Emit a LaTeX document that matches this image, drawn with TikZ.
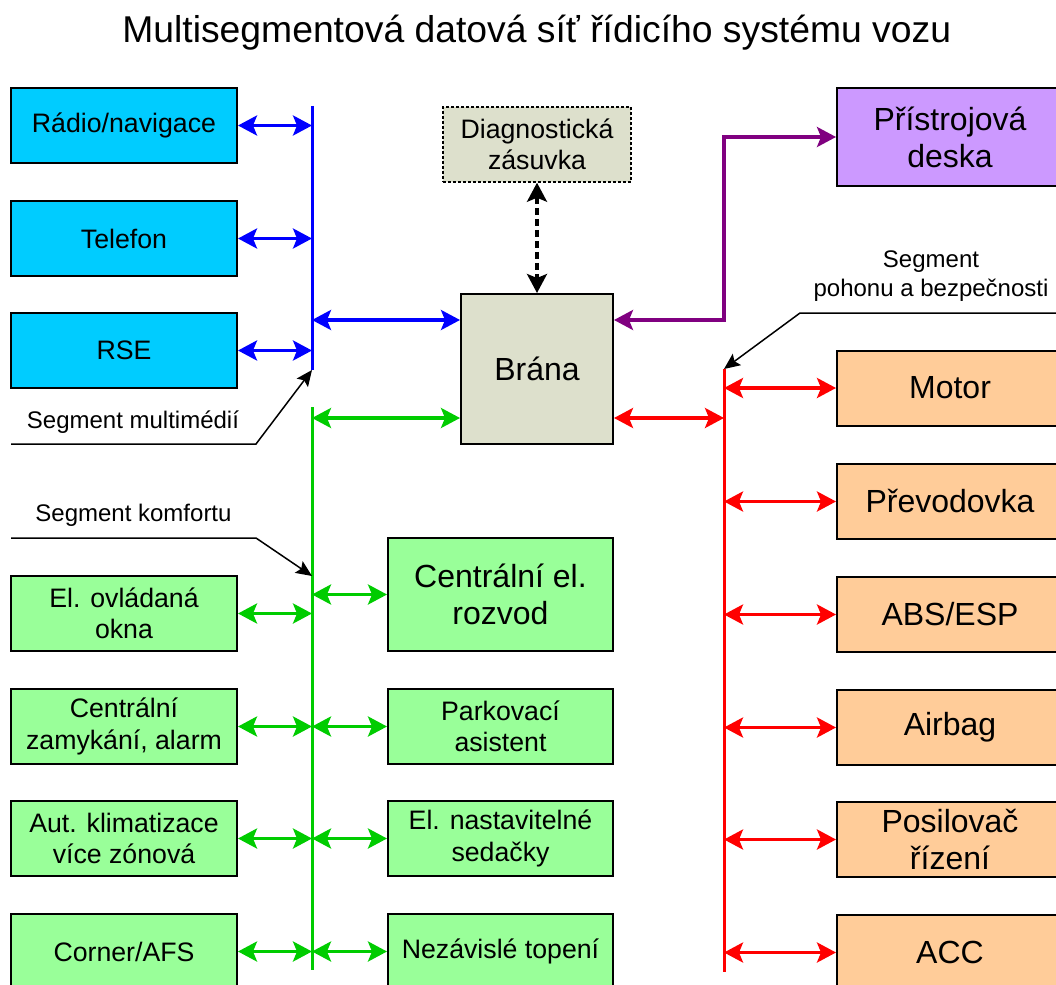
\documentclass[tikz,border=0pt]{standalone}
\usepackage{fontspec}
\setmainfont{Liberation Sans}
\usetikzlibrary{arrows.meta}
\definecolor{cyanbox}{RGB}{0,204,255}
\definecolor{greenbox}{RGB}{153,255,153}
\definecolor{orangebox}{RGB}{255,204,153}
\definecolor{lilacbox}{RGB}{204,153,255}
\definecolor{graybox}{RGB}{221,224,204}
\definecolor{busgreen}{RGB}{0,204,0}
\definecolor{busblue}{RGB}{0,0,255}
\definecolor{busred}{RGB}{255,0,0}
\definecolor{buspurple}{RGB}{128,0,128}
\tikzset{
  box/.style={draw=black, line width=2pt, inner sep=0pt, align=center,
    minimum width=226pt, minimum height=75pt, anchor=center},
  fmid/.style={font=\fontsize{26.7}{31.5}\selectfont},
  fbig/.style={font=\fontsize{32}{37}\selectfont},
  flab/.style={font=\fontsize{24}{29}\selectfont},
  link/.style={line width=3.2pt,
    {Stealth[length=19pt,width=20pt,inset=4pt]}-{Stealth[length=19pt,width=20pt,inset=4pt]}},
  busline/.style={line width=3pt},
  note/.style={line width=1.5pt, draw=black,
    -{Stealth[length=16pt,width=14pt,inset=3pt]}},
}
\begin{document}
\begin{tikzpicture}[x=1pt,y=-1pt]
\clip (0,0) rectangle (1056,984);
\fill[white] (0,0) rectangle (1056,984);

% title
\node[anchor=base, font=\fontsize{37.3}{44}\selectfont] (title) at (536.7,43)
  {Multisegmentová datová síť řídicího systému vozu};

% multimedia segment
\node[box, fill=cyanbox, fmid] (radio) at (124,125.5) {Rádio/navigace};
\node[box, fill=cyanbox, fmid] (tel) at (124,238.5) {Telefon};
\node[box, fill=cyanbox, fmid] (rse) at (124,350.5) {RSE};
\coordinate (mtop) at (312,106);
\coordinate (mbot) at (312,370);
\coordinate (mgw) at (312,320);
\draw[busline, busblue] (mtop) -- (mbot);
\draw[link, busblue] (radio.east) -- (radio.east -| mtop);
\draw[link, busblue] (tel.east) -- (tel.east -| mtop);
\draw[link, busblue] (rse.east) -- (rse.east -| mtop);

% gateway
\node[box, fill=graybox, fbig, minimum width=152pt, minimum height=150pt] (brana) at (537,369) {Brána};
\node[box, fill=graybox, fmid, minimum width=188pt, minimum height=75pt,
  line width=1.5pt, dash pattern=on 3pt off 2pt] (diag) at (537,144.5) {Diagnostická\\zásuvka};
\draw[link, black, dash pattern=on 7pt off 4pt] (diag.south) -- (brana.north);
\draw[link, busblue] (mgw) -- (mgw -| brana.west);

% instrument panel
\node[box, fill=lilacbox, fbig, minimum height=98pt] (pd) at (950,137) {Přístrojová\\deska};
\coordinate (pc) at (724,320);
\draw[link, buspurple] (pd.west) -| (pc) -- (pc -| brana.east);

% comfort segment
\coordinate (ctop) at (312,407);
\coordinate (cbot) at (312,970);
\coordinate (cgw) at (312,418);
\draw[busline, busgreen] (ctop) -- (cbot);
\draw[link, busgreen] (cgw) -- (cgw -| brana.west);

\node[box, fill=greenbox, fmid] (okna) at (124,613.5) {El. ovládaná\\okna};
\node[box, fill=greenbox, fmid] (zamek) at (124,726.5) {Centrální\\zamykání, alarm};
\node[box, fill=greenbox, fmid] (klima) at (124,838.5) {Aut. klimatizace\\více zónová};
\node[box, fill=greenbox, fmid] (corner) at (124,951.5) {Corner/AFS};
\node[box, fill=greenbox, fbig, minimum width=225pt, minimum height=113pt] (rozvod) at (500.5,594.5) {Centrální el.\\rozvod};
\node[box, fill=greenbox, fmid, minimum width=225pt] (park) at (500.5,726.5) {Parkovací\\asistent};
\node[box, fill=greenbox, fmid, minimum width=225pt] (sed) at (500.5,838.5) {El. nastavitelné\\sedačky};
\node[box, fill=greenbox, fmid, minimum width=225pt] (top) at (500.5,951.5) {Nezávislé topení};

\foreach \n in {okna,zamek,klima,corner}
  \draw[link, busgreen] (\n.east) -- (\n.east -| ctop);
\foreach \n in {rozvod,park,sed,top}
  \draw[link, busgreen] (ctop |- \n.west) -- (\n.west);

% drive and safety segment
\coordinate (rtop) at (724,369);
\coordinate (rbot) at (724,972);
\coordinate (rgw) at (724,418);
\draw[busline, busred] (rtop) -- (rbot);
\draw[link, busred] (brana.east |- rgw) -- (rgw);

\node[box, fill=orangebox, fbig] (motor) at (950,388) {Motor};
\node[box, fill=orangebox, fbig] (prev) at (950,501.5) {Převodovka};
\node[box, fill=orangebox, fbig] (abs) at (950,614.5) {ABS/ESP};
\node[box, fill=orangebox, fbig] (airbag) at (950,727.5) {Airbag};
\node[box, fill=orangebox, fbig] (posil) at (950,839.5) {Posilovač\\řízení};
\node[box, fill=orangebox, fbig] (acc) at (950,952.5) {ACC};
\foreach \n in {motor,prev,abs,airbag,posil,acc}
  \draw[link, busred] (rtop |- \n.west) -- (\n.west);

% segment labels
\node[flab, anchor=base] (lmm) at (133,428) {Segment multimédií};
\coordinate (mm1) at (11,444);
\coordinate (mm2) at (256,444);
\draw[note] (mm1) -- (mm2) -- (mbot);

\node[flab, anchor=base] (lkomf) at (133.5,521) {Segment komfortu};
\coordinate (km1) at (11,538);
\coordinate (km2) at (256,538);
\draw[note] (km1) -- (km2) -- (312,576);

\node[flab, align=center, anchor=center] (lpoh) at (931,276) {Segment\\pohonu a bezpečnosti};
\coordinate (pb1) at (1056,313);
\coordinate (pb2) at (800,313);
\draw[note] (pb1) -- (pb2) -- (rtop);
\end{tikzpicture}
\end{document}
